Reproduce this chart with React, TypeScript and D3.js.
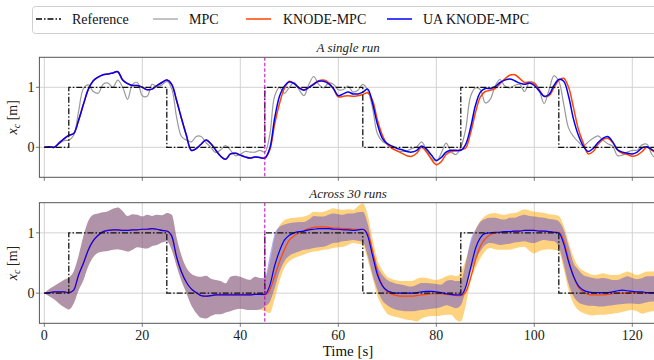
import React from 'react';
import * as d3 from 'd3';

const W = 654;
const H = 360;
const FONT = 'Liberation Serif';

// reference: piecewise constant set-point
const refEdges = [0, 5, 25, 45, 65, 85, 105, 125];
const refLevels = [0, 1, 0, 1, 0, 1, 0, 0];

const xTicks = [0, 20, 40, 60, 80, 100, 120];
const yTicks = [0, 1];
const switchTime = 45;

// ---- top panel: a single run, one sample per second from t = 0 ----
const mpcRun = [
  0.0, 0.01, 0.0, 0.06, 0.11, 0.12, 0.2, 0.6, 0.98, 1.04,
  0.93, 0.9, 1.05, 1.07, 1.0, 1.12, 1.0, 0.8, 1.05, 1.08,
  0.86, 0.85, 1.05, 1.01, 1.04, 1.1, 0.98, 0.5, 0.18, 0.12,
  0.09, 0.18, 0.18, 0.08, 0.0, -0.09, -0.04, 0.03, -0.05, -0.14,
  -0.12, -0.07, -0.08, -0.08, -0.05, -0.08, 0.2, 0.85, 1.0, 0.9,
  1.0, 1.08, 0.96, 0.86, 1.05, 1.18, 1.05, 0.99, 1.07, 1.05,
  0.96, 0.96, 1.02, 0.92, 0.95, 1.05, 0.95, 0.65, 0.22, 0.1,
  0.05, -0.01, -0.06, -0.07, -0.06, -0.02, 0.01, 0.09, -0.05, -0.18,
  -0.23, -0.1, 0.07, -0.07, -0.12, 0.0, 0.3, 0.85, 0.99, 0.96,
  0.74, 0.8, 1.02, 1.13, 1.02, 0.99, 1.03, 1.05, 0.93, 1.08,
  1.08, 0.95, 0.73, 0.95, 1.19, 1.1, 0.72, 0.32, 0.18, 0.09,
  0.02, 0.09, 0.15, 0.19, 0.12, 0.06, 0.02, -0.14, -0.13, -0.08,
  -0.05, -0.05, 0.04, 0.05, -0.12, -0.2,
];

const uaRun = [
  0.0, 0.01, 0.0, 0.07, 0.14, 0.2, 0.23, 0.45, 0.72, 0.97,
  1.11, 1.17, 1.21, 1.22, 1.24, 1.26, 1.12, 1.06, 1.03, 1.03,
  1.0, 0.96, 0.97, 1.03, 1.08, 1.12, 1.05, 0.78, 0.48, 0.2,
  -0.05, -0.02, 0.05, 0.12, 0.06, -0.05, -0.15, -0.2, -0.11, -0.1,
  -0.13, -0.16, -0.18, -0.16, -0.17, -0.18, -0.02, 0.48, 0.85, 1.02,
  1.09, 1.06, 0.99, 0.95, 1.0, 1.05, 1.1, 1.1, 1.06, 0.98,
  0.86, 0.89, 0.92, 0.89, 0.89, 0.92, 0.97, 0.73, 0.38, 0.15,
  0.06, 0.02, -0.02, -0.04, -0.07, -0.08, -0.05, 0.02, -0.03, -0.13,
  -0.22, -0.17, -0.08, -0.05, -0.05, -0.05, 0.05, 0.33, 0.7, 0.92,
  0.98, 0.98, 1.01, 1.08, 1.12, 1.14, 1.11, 1.07, 1.05, 1.07,
  1.03, 0.94, 0.85, 0.88, 1.03, 1.13, 1.1, 0.85, 0.47, 0.2,
  0.02, -0.07, -0.02, 0.08, 0.15, 0.18, 0.09, -0.04, -0.08, -0.1,
  -0.11, -0.08, -0.01, 0.01, -0.04, -0.08,
];

// KNODE-MPC overlaps UA KNODE-MPC before 45 s; values from t = 45
const knodeRunAfter = [
  -0.18,
  -0.05, 0.38, 0.73, 0.98,
  1.1, 1.06, 0.99, 0.96, 1.0, 1.06, 1.11, 1.12, 1.08, 0.98,
  0.84, 0.85, 0.86, 0.85, 0.86, 0.88, 0.91, 0.78, 0.45, 0.2,
  0.05, -0.02, -0.06, -0.1, -0.14, -0.15, -0.1, 0.0, -0.08, -0.2,
  -0.29, -0.24, -0.12, -0.07, -0.06, -0.04, -0.01, 0.24, 0.58, 0.84,
  0.93, 0.95, 0.98, 1.06, 1.14, 1.2, 1.21, 1.15, 1.08, 1.09,
  1.06, 0.96, 0.85, 0.86, 0.99, 1.12, 1.15, 1.0, 0.66, 0.3,
  0.07, -0.11, -0.07, 0.05, 0.13, 0.15, 0.08, -0.05, -0.1, -0.12,
  -0.15, -0.13, -0.07, 0.0, -0.05, -0.1,
];

// ---- bottom panel: across 30 runs (mean and spread) ----
const uaMean = [
  0, 0.01, 0.02, 0.02, 0.02, 0.01, 0.05, 0.3, 0.5, 0.72,
  0.87, 0.96, 1.02, 1.04, 1.05, 1.05, 1.04, 1.04, 1.05, 1.05,
  1.06, 1.06, 1.07, 1.06, 1.04, 1.03, 0.95, 0.6, 0.35, 0.18,
  0.07, 0.01, -0.04, -0.05, -0.04, -0.03, -0.03, -0.03, -0.03, -0.03,
  -0.03, -0.03, -0.03, -0.02, -0.02, -0.02, 0.12, 0.45, 0.7, 0.88,
  0.96, 1.0, 1.02, 1.03, 1.05, 1.06, 1.07, 1.07, 1.07, 1.06,
  1.06, 1.05, 1.05, 1.04, 1.05, 1.06, 0.95, 0.62, 0.3, 0.12,
  0.04, 0.01, 0.0, 0.0, 0.0, 0.0, 0.01, 0.02, 0.03, 0.03,
  0.02, 0.01, -0.01, -0.02, -0.03, -0.03, 0.1, 0.42, 0.74, 0.92,
  0.99, 1.0, 1.01, 1.01, 1.02, 1.02, 1.03, 1.03, 1.04, 1.04,
  1.04, 1.03, 1.03, 1.02, 1.01, 1.0, 0.82, 0.52, 0.28, 0.12,
  0.05, 0.02, 0.01, 0.01, 0.01, 0.01, 0.02, 0.04, 0.05, 0.04,
  0.03, 0.02, 0.02, 0.01, 0.01, 0.01,
];

const uaHi = [
  0.0, 0.07, 0.12, 0.17, 0.22, 0.26, 0.36, 0.62, 0.95, 1.2,
  1.3, 1.32, 1.34, 1.36, 1.4, 1.42, 1.36, 1.28, 1.31, 1.3,
  1.27, 1.3, 1.28, 1.3, 1.29, 1.33, 1.3, 0.92, 0.62, 0.42,
  0.32, 0.28, 0.27, 0.29, 0.24, 0.22, 0.2, 0.16, 0.27, 0.29,
  0.27, 0.24, 0.22, 0.27, 0.25, 0.26, 0.62, 0.98, 1.1, 1.14,
  1.16, 1.17, 1.18, 1.18, 1.22, 1.28, 1.27, 1.27, 1.3, 1.32,
  1.31, 1.3, 1.32, 1.32, 1.34, 1.35, 1.15, 0.75, 0.45, 0.3,
  0.22, 0.18, 0.15, 0.14, 0.12, 0.11, 0.14, 0.17, 0.17, 0.16,
  0.15, 0.14, 0.2, 0.22, 0.2, 0.2, 0.5, 0.88, 1.05, 1.18,
  1.23, 1.25, 1.25, 1.23, 1.22, 1.25, 1.25, 1.28, 1.3, 1.28,
  1.27, 1.26, 1.25, 1.23, 1.22, 1.19, 1.05, 0.78, 0.5, 0.39,
  0.3, 0.27, 0.25, 0.24, 0.25, 0.24, 0.22, 0.22, 0.25, 0.28,
  0.25, 0.23, 0.25, 0.28, 0.28, 0.3,
];

const uaLo = [
  0.0, -0.05, -0.1, -0.17, -0.23, -0.27, -0.17, 0.05, 0.22, 0.45,
  0.6, 0.67, 0.69, 0.7, 0.72, 0.73, 0.71, 0.69, 0.72, 0.76,
  0.75, 0.74, 0.78, 0.8, 0.84, 0.86, 0.72, 0.45, 0.2, 0.0,
  -0.2, -0.33, -0.41, -0.42, -0.38, -0.35, -0.35, -0.32, -0.3, -0.27,
  -0.26, -0.27, -0.28, -0.28, -0.27, -0.22, -0.15, 0.08, 0.35, 0.53,
  0.62, 0.66, 0.69, 0.72, 0.73, 0.75, 0.76, 0.77, 0.8, 0.83,
  0.84, 0.86, 0.87, 0.88, 0.87, 0.85, 0.62, 0.3, 0.05, -0.12,
  -0.2, -0.25, -0.28, -0.29, -0.3, -0.3, -0.29, -0.28, -0.27, -0.26,
  -0.25, -0.23, -0.2, -0.22, -0.25, -0.2, 0.05, 0.35, 0.55, 0.7,
  0.8, 0.83, 0.82, 0.8, 0.81, 0.82, 0.84, 0.85, 0.86, 0.84,
  0.83, 0.86, 0.88, 0.87, 0.86, 0.77, 0.48, 0.15, -0.05, -0.15,
  -0.19, -0.21, -0.21, -0.22, -0.22, -0.21, -0.2, -0.19, -0.18, -0.17,
  -0.17, -0.18, -0.17, -0.15, -0.14, -0.14,
];

// KNODE-MPC statistics, from t = 45 (identical to UA before)
const knodeMeanAfter = [
  -0.03,
  0.05, 0.28, 0.52, 0.72,
  0.88, 0.95, 1.0, 1.04, 1.07, 1.09, 1.1, 1.1, 1.09, 1.08,
  1.08, 1.07, 1.07, 1.06, 1.06, 1.06, 0.99, 0.7, 0.35, 0.13,
  0.02, -0.02, -0.04, -0.05, -0.05, -0.05, -0.04, -0.03, -0.02, -0.01,
  -0.01, -0.01, -0.02, -0.03, -0.04, -0.04, 0.02, 0.25, 0.55, 0.78,
  0.9, 0.97, 1.0, 1.01, 1.02, 1.02, 1.03, 1.03, 1.04, 1.04,
  1.04, 1.03, 1.03, 1.02, 1.01, 1.01, 0.88, 0.55, 0.28, 0.1,
  0.02, -0.02, -0.03, -0.03, -0.03, -0.02, -0.01, 0.0, 0.0, 0.01,
  0.01, 0.0, 0.0, 0.0, 0.0, 0.0,
];

const knodeHiAfter = [
  0.24,
  0.5, 0.92, 1.12, 1.21,
  1.24, 1.25, 1.26, 1.27, 1.3, 1.35, 1.34, 1.35, 1.38, 1.41,
  1.39, 1.38, 1.39, 1.38, 1.44, 1.49, 1.3, 0.9, 0.55, 0.38,
  0.27, 0.23, 0.21, 0.2, 0.2, 0.2, 0.24, 0.26, 0.25, 0.23,
  0.22, 0.24, 0.28, 0.3, 0.28, 0.35, 0.55, 0.82, 1.05, 1.2,
  1.28, 1.32, 1.33, 1.31, 1.3, 1.32, 1.33, 1.36, 1.39, 1.37,
  1.35, 1.34, 1.33, 1.31, 1.3, 1.28, 1.12, 0.85, 0.6, 0.44,
  0.37, 0.33, 0.3, 0.31, 0.33, 0.31, 0.3, 0.3, 0.33, 0.36,
  0.33, 0.3, 0.33, 0.36, 0.36, 0.38,
];

const knodeLoAfter = [
  -0.3,
  -0.33, -0.1, 0.2, 0.42,
  0.53, 0.58, 0.61, 0.64, 0.67, 0.69, 0.7, 0.72, 0.73, 0.75,
  0.76, 0.77, 0.8, 0.83, 0.82, 0.8, 0.55, 0.25, -0.05, -0.22,
  -0.34, -0.38, -0.4, -0.42, -0.44, -0.45, -0.47, -0.42, -0.39, -0.38,
  -0.38, -0.37, -0.36, -0.36, -0.44, -0.47, -0.2, 0.2, 0.42, 0.58,
  0.7, 0.75, 0.73, 0.72, 0.72, 0.72, 0.74, 0.76, 0.77, 0.7,
  0.66, 0.7, 0.72, 0.73, 0.72, 0.69, 0.4, 0.05, -0.17, -0.28,
  -0.33, -0.36, -0.37, -0.36, -0.36, -0.35, -0.34, -0.33, -0.31, -0.29,
  -0.28, -0.3, -0.34, -0.32, -0.3, -0.3,
];

const withBefore = (before: number[], after: number[]) => [...before.slice(0, switchTime), ...after];

const knodeRun = withBefore(uaRun, knodeRunAfter);
const knodeMean = withBefore(uaMean, knodeMeanAfter);
const knodeHi = withBefore(uaHi, knodeHiAfter);
const knodeLo = withBefore(uaLo, knodeLoAfter);

const legendItems = [
  { label: 'Reference', color: '#000', dash: '6,2,1.5,2', lineX: 36, textX: 72 },
  { label: 'MPC', color: '#999', dash: null, lineX: 153, textX: 189 },
  { label: 'KNODE-MPC', color: '#ff4500', dash: null, lineX: 246, textX: 283 },
  { label: 'UA KNODE-MPC', color: '#0000ff', dash: null, lineX: 387, textX: 423 },
];

const x = d3.scaleLinear().domain([-1, 125]).range([39.4, 656.8]);

const COL = {
  mpc: '#999999',
  knode: '#ff4500',
  ua: '#0000ff',
  frame: '#555555',
  grid: '#d3d3d3',
  switch: '#c000c0',
};

function Panel({ y, title, id, showLabels, children }: any) {
  const [y0, y1] = y.range();
  const x0 = x.range()[0];
  const x1 = x.range()[1];
  const refLine = d3
    .line<number>()
    .x((_, i) => x(refEdges[i]))
    .y((d) => y(d))
    .curve(d3.curveStepAfter)(refLevels) as string;
  return (
    <g>
      <defs>
        <clipPath id={id}>
          <rect x={x0} y={y1} width={x1 - x0} height={y0 - y1} />
        </clipPath>
      </defs>
      {xTicks.map((t) => (
        <line key={'gx' + t} x1={x(t)} x2={x(t)} y1={y1} y2={y0} stroke={COL.grid} strokeWidth={1} />
      ))}
      {yTicks.map((v) => (
        <line key={'gy' + v} x1={x0} x2={x1} y1={y(v)} y2={y(v)} stroke={COL.grid} strokeWidth={1} />
      ))}
      <g clipPath={`url(#${id})`}>
        {children}
        <path d={refLine} fill="none" stroke="#111" strokeWidth={1.3} strokeDasharray="6,2,1.5,2" />
        <line
          x1={x(switchTime)}
          x2={x(switchTime)}
          y1={y1}
          y2={y0}
          stroke={COL.switch}
          strokeWidth={1}
          strokeDasharray="3.5,2"
        />
      </g>
      <rect x={x0} y={y1} width={x1 - x0} height={y0 - y1} fill="none" stroke={COL.frame} strokeWidth={1} />
      {xTicks.map((t) => (
        <g key={'tx' + t}>
          <line x1={x(t)} x2={x(t)} y1={y0} y2={y0 + 3.5} stroke={COL.frame} strokeWidth={0.8} />
          {showLabels && (
            <text x={x(t)} y={y0 + 17} textAnchor="middle" fontSize={14} fill="#222">
              {t}
            </text>
          )}
        </g>
      ))}
      {yTicks.map((v) => (
        <g key={'ty' + v}>
          <line x1={x0 - 3.5} x2={x0} y1={y(v)} y2={y(v)} stroke={COL.frame} strokeWidth={0.8} />
          <text x={x0 - 5} y={y(v) + 5} textAnchor="end" fontSize={14} fill="#222">
            {v}
          </text>
        </g>
      ))}
      <text x={(x0 + 656.8) / 2} y={y1 - 5} textAnchor="middle" fontSize={13} fontStyle="italic" fill="#222">
        {title}
      </text>
      <text
        transform={`translate(${17},${(y0 + y1) / 2}) rotate(-90)`}
        textAnchor="middle"
        fontSize={14}
        fill="#222"
      >
        <tspan fontStyle="italic">x</tspan>
        <tspan fontStyle="italic" fontSize={10} dy={3}>c</tspan>
        <tspan dy={-3}> [m]</tspan>
      </text>
    </g>
  );
}

export default function App() {
  const yTop = d3.scaleLinear().domain([-0.5, 1.5]).range([177.3, 57.3]);
  const yBot = d3.scaleLinear().domain([-0.5, 1.5]).range([323.3, 202.7]);

  const runLine = (vals: number[]) =>
    d3
      .line<number>()
      .x((_, i) => x(i))
      .y((d) => yTop(d))
      .curve(d3.curveCatmullRom)(vals) as string;

  const meanLine = (vals: number[]) =>
    d3
      .line<number>()
      .x((_, i) => x(i))
      .y((d) => yBot(d))
      .curve(d3.curveMonotoneX)(vals) as string;

  const band = (lo: number[], hi: number[]) =>
    d3
      .area<number>()
      .x((_, i) => x(i))
      .y0((_, i) => yBot(lo[i]))
      .y1((d) => yBot(d))
      .curve(d3.curveMonotoneX)(hi) as string;

  return (
    <svg
      width={W}
      height={H}
      style={{ position: 'absolute', left: 0, top: 0, background: '#fff', fontFamily: `"${FONT}", serif` }}
      xmlns="http://www.w3.org/2000/svg"
    >
      <rect x={0} y={0} width={W} height={H} fill="#fff" />

      {/* legend */}
      <rect x={32.5} y={6.5} width={640} height={27} rx={3} fill="#fff" stroke="#d0d0d0" strokeWidth={1} />
      {legendItems.map((it) => (
        <g key={it.label}>
          <line
            x1={it.lineX}
            x2={it.lineX + 25}
            y1={19}
            y2={19}
            stroke={it.color}
            strokeWidth={it.label === 'MPC' ? 1.2 : 1.5}
            strokeDasharray={it.dash || undefined}
          />
          <text x={it.textX} y={24} fontSize={14} fill="#111">
            {it.label}
          </text>
        </g>
      ))}

      <Panel y={yTop} title="A single run" id="clipTop" showLabels={false}>
        <path d={runLine(mpcRun)} fill="none" stroke={COL.mpc} strokeWidth={1.2} />
        <path d={runLine(knodeRun)} fill="none" stroke={COL.knode} strokeWidth={1.5} />
        <path d={runLine(uaRun)} fill="none" stroke={COL.ua} strokeWidth={1.5} />
      </Panel>

      <Panel y={yBot} title="Across 30 runs" id="clipBot" showLabels={true}>
        <path d={band(knodeLo, knodeHi)} fill="#ffa500" fillOpacity={0.5} />
        <path d={band(uaLo, uaHi)} fill="#1010ff" fillOpacity={0.33} />
        <path d={meanLine(knodeMean)} fill="none" stroke={COL.knode} strokeWidth={1.2} />
        <path d={meanLine(uaMean)} fill="none" stroke={COL.ua} strokeWidth={1.2} />
      </Panel>

      <text x={348} y={356} textAnchor="middle" fontSize={15} fill="#111">
        Time [s]
      </text>
    </svg>
  );
}
